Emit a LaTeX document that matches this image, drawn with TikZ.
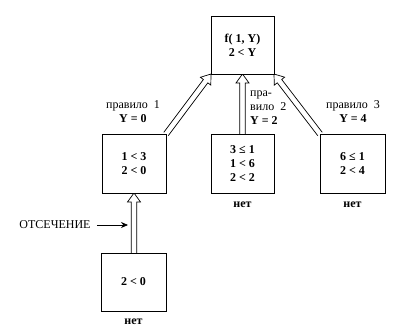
\documentclass[tikz,border=0pt]{standalone}
\usepackage{fontspec}
\setmainfont{Liberation Serif}
\usetikzlibrary{calc,arrows.meta}
\tikzset{
  box/.style={draw, line width=0.8pt, fill=white, inner sep=0pt, align=center,
    font=\fontsize{12}{13.8}\selectfont\bfseries},
  lbl/.style={inner sep=0pt, align=center, font=\fontsize{12}{14}\selectfont},
  neg/.style={inner sep=0pt, font=\fontsize{12}{14}\selectfont\bfseries},
  hollow/.style={line width=0.7pt, fill=white, line join=miter},
}
\newcommand{\hollowarr}[2]{%
  \draw[hollow]
    ($(#1)!2.8pt!90:(#2)$) --
    ($($(#2)!9pt!(#1)$)!2.8pt!90:(#2)$) --
    ($($(#2)!9pt!(#1)$)!6.5pt!90:(#2)$) --
    (#2) --
    ($($(#2)!9pt!(#1)$)!6.5pt!-90:(#2)$) --
    ($($(#2)!9pt!(#1)$)!2.8pt!-90:(#2)$) --
    ($(#1)!2.8pt!-90:(#2)$);
}
\begin{document}
\begin{tikzpicture}[x=1pt,y=-1pt]
\useasboundingbox (0,0) rectangle (404,336);
% arrows first (boxes drawn on top)
\coordinate (tsw) at (211,74);
\coordinate (tse) at (274,74);
\coordinate (ts) at (242.5,74);
\coordinate (b1ne) at (166,134);
\coordinate (b2n) at (242.5,134);
\coordinate (b3nw) at (320,134);
\coordinate (b4n) at (134,253);
\coordinate (b1s) at (134,193);
\hollowarr{b1ne}{tsw}
\hollowarr{b2n}{ts}
\hollowarr{b3nw}{tse}
\hollowarr{b4n}{b1s}
% boxes
\node[box, minimum width=63pt, minimum height=58pt] (top) at (242.5,45)
  {f( 1, Y)\\2 < Y};
\node[box, minimum width=64pt, minimum height=59pt] (b1) at (134,163.5)
  {1 < 3\\2 < 0};
\node[box, minimum width=63pt, minimum height=59pt] (b2) at (242.5,163.5)
  {3 ≤ 1\\1 < 6\\2 < 2};
\node[box, minimum width=65pt, minimum height=59pt] (b3) at (352.5,163.5)
  {6 ≤ 1\\2 < 4};
\node[box, minimum width=65pt, minimum height=58pt] (b4) at (133.5,282)
  {2 < 0};
% labels
\node[lbl] (r1) at (133,112) {правило\ \ 1\\\textbf{Y = 0}};
\node[lbl, align=left, anchor=west] (r2) at (250,108) {пра-\\вило\ \ 2\\\textbf{Y = 2}};
\node[lbl] (r3) at (353,112) {правило\ \ 3\\\textbf{Y = 4}};
\node[neg] (n2) at (242.5,205) {нет};
\node[neg] (n3) at (352.5,205) {нет};
\node[neg] (n4) at (133.5,322) {нет};
% cut
\node[lbl] (cut) at (55,225) {ОТСЕЧЕНИЕ};
\coordinate (cutend) at (128,225);
\draw[line width=0.8pt, -{Stealth[length=7pt,width=6pt]}] ($(cut.east)+(6,0)$) -- (cutend);
\end{tikzpicture}
\end{document}
